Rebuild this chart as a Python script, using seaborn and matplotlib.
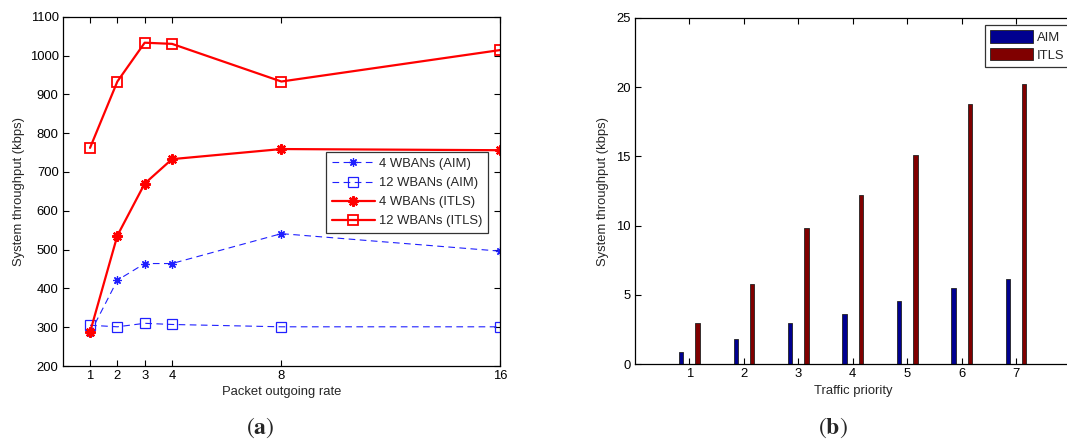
import numpy as np
import pandas as pd
import matplotlib
matplotlib.use("Agg")
import matplotlib.pyplot as plt
import seaborn as sns

# ---- data: throughput vs packet outgoing rate ----
rates = [1, 2, 3, 4, 8, 16]
aim_4 = [284, 421, 464, 464, 541, 496]
aim_12 = [305, 301, 310, 307, 301, 301]
itls_4 = [287, 536, 670, 733, 759, 756]
itls_12 = [762, 933, 1033, 1030, 933, 1014]

# ---- data: throughput per traffic priority ----
priorities = ["1", "2", "3", "4", "5", "6", "7"]
aim_prio = [0.91, 1.83, 2.96, 3.62, 4.54, 5.52, 6.17]
itls_prio = [3.0, 5.79, 9.8, 12.2, 15.13, 18.8, 20.23]

sns.set_theme(style="white")
plt.rcParams["font.family"] = ["Liberation Sans", "DejaVu Sans"]
plt.rcParams["mathtext.fontset"] = "stix"
FS = 9.4

fig = plt.figure(figsize=(10.67, 4.44), dpi=100)
W, H = 1067, 444

def box(l, t, r, b):
    return [l / W, 1 - b / H, (r - l) / W, (b - t) / H]

def style_axes(ax, right=True):
    for s in ax.spines.values():
        s.set_color("black")
        s.set_linewidth(0.9)
    ax.tick_params(direction="in", length=4, width=0.8, colors="black",
                   labelsize=FS, top=True, right=right, bottom=True, left=True,
                   pad=3)

# ---------------- panel (a) ----------------
ax1 = fig.add_axes(box(62.7, 16.7, 500, 366))
series = [
    ("4 WBANs (AIM)", aim_4, dict(color="#2020ff", lw=0.8, ls=(0, (6, 4)),
                                   marker=(8, 2, 0), ms=6, mew=0.9)),
    ("12 WBANs (AIM)", aim_12, dict(color="#2020ff", lw=0.8, ls=(0, (6, 4)),
                                     marker="s", ms=7, mfc="none", mew=0.9)),
    ("4 WBANs (ITLS)", itls_4, dict(color="#ff0000", lw=1.6, ls="-",
                                     marker=(8, 2, 0), ms=7.5, mew=1.6)),
    ("12 WBANs (ITLS)", itls_12, dict(color="#ff0000", lw=1.6, ls="-",
                                       marker="s", ms=7, mfc="none", mew=1.3)),
]
for name, vals, kw in series:
    df = pd.DataFrame({"rate": rates, "tp": vals})
    sns.lineplot(data=df, x="rate", y="tp", ax=ax1, label=name,
                 color=kw["color"], linewidth=kw["lw"], linestyle=kw["ls"],
                 marker=kw["marker"], markersize=kw["ms"],
                 markerfacecolor=kw.get("mfc", kw["color"]),
                 markeredgecolor=kw["color"], markeredgewidth=kw["mew"])
ax1.set_xlim(0, 16)
ax1.set_ylim(200, 1100)
ax1.set_xticks(rates)
ax1.set_yticks(np.arange(200, 1101, 100))
ax1.set_xlabel("Packet outgoing rate", fontsize=FS, labelpad=3)
ax1.set_ylabel("System throughput (kbps)", fontsize=FS, labelpad=3)
style_axes(ax1)
leg1 = ax1.legend(loc="upper left", bbox_to_anchor=(325.7 / W, 1 - 152 / H),
                  bbox_transform=fig.transFigure, fontsize=FS, frameon=True,
                  fancybox=False, edgecolor="black", handlelength=3.3,
                  borderpad=0.45, labelspacing=0.53, handletextpad=0.3,
                  borderaxespad=0)
leg1.get_frame().set_linewidth(0.9)

# ---------------- panel (b) ----------------
ax2 = fig.add_axes(box(635, 17.7, 1070.5, 364.3))
dfb = pd.DataFrame({
    "priority": priorities * 2,
    "tp": aim_prio + itls_prio,
    "scheme": ["AIM"] * len(priorities) + ["ITLS"] * len(priorities),
})
sns.barplot(data=dfb, x="priority", y="tp", hue="scheme", ax=ax2,
            palette=["#00008f", "#800000"], width=0.6, dodge=True,
            edgecolor="#222222", linewidth=0.6, saturation=1)
# narrow each bar around its dodged centre
for p in ax2.patches:
    w = p.get_width()
    if w > 0 and p.get_height() > 0:
        cx = p.get_x() + w / 2
        p.set_width(0.08)
        p.set_x(cx - 0.04)
ax2.set_xlim(-1, 7)
ax2.set_ylim(0, 25)
ax2.set_yticks(np.arange(0, 26, 5))
ax2.set_xlabel("Traffic priority", fontsize=FS, labelpad=3)
ax2.set_ylabel("System throughput (kbps)", fontsize=FS, labelpad=5)
style_axes(ax2, right=False)
h, l = ax2.get_legend_handles_labels()
ax2.get_legend().remove()
leg2 = ax2.legend(h, l, loc="upper left", bbox_to_anchor=(985 / W, 1 - 25 / H),
                  bbox_transform=fig.transFigure, fontsize=FS, frameon=True,
                  fancybox=False, edgecolor="black", handlelength=3.3,
                  handleheight=1.1, borderpad=0.4, labelspacing=0.3,
                  handletextpad=0.3, borderaxespad=0)
leg2.get_frame().set_linewidth(0.9)

# panel captions
fig.text(260 / W, 1 - 428 / H, r"$(\mathbf{a})$", ha="center", va="center",
         fontsize=17)
fig.text(833 / W, 1 - 428 / H, r"$(\mathbf{b})$", ha="center", va="center",
         fontsize=17)

fig.savefig("out.png", dpi=100)
